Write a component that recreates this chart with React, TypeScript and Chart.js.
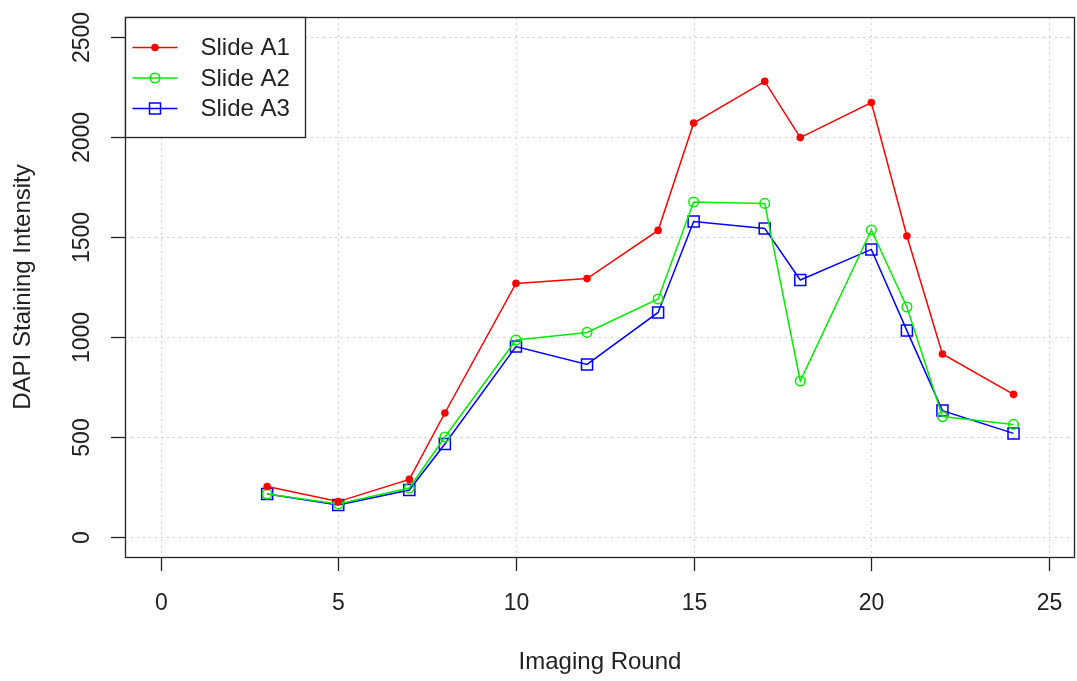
import React, { useEffect, useRef } from "react";
import { Chart, registerables } from "chart.js";

Chart.register(...registerables);

const rounds = [3, 5, 7, 8, 10, 12, 14, 15, 17, 18, 20, 21, 22, 24];
const slideA1 = [252, 177, 288, 620, 1268, 1292, 1533, 2070, 2278, 1997, 2172, 1505, 915, 713];
const slideA2 = [215, 165, 245, 500, 985, 1023, 1190, 1675, 1668, 780, 1535, 1150, 602, 563];
const slideA3 = [215, 160, 235, 465, 952, 863, 1123, 1577, 1543, 1285, 1438, 1032, 632, 518];
const seriesNames = ["Slide A1", "Slide A2", "Slide A3"];
const xTicks = [0, 5, 10, 15, 20, 25];
const yTicks = [0, 500, 1000, 1500, 2000, 2500];
const xTitle = "Imaging Round";
const yTitle = "DAPI Staining Intensity";

const FONT = '"Liberation Sans", Arial, sans-serif';
const colors = ["#ff0000", "#00ee00", "#0000ff"];

function drawSymbol(ctx: CanvasRenderingContext2D, i: number, x: number, y: number) {
  ctx.save();
  ctx.lineWidth = 1.5;
  ctx.strokeStyle = colors[i];
  ctx.fillStyle = colors[i];
  if (i === 0) {
    ctx.beginPath();
    ctx.arc(x, y, 3.8, 0, Math.PI * 2);
    ctx.fill();
  } else if (i === 1) {
    ctx.beginPath();
    ctx.arc(x, y, 4.8, 0, Math.PI * 2);
    ctx.stroke();
  } else {
    ctx.strokeRect(x - 5.5, y - 5.5, 11, 11);
  }
  ctx.restore();
}

const rPlot = {
  id: "rplot",
  beforeDatasetsDraw(chart: any) {
    const { ctx, chartArea: a, scales } = chart;
    const xs = scales.x;
    const ys = scales.y;
    ctx.save();
    ctx.strokeStyle = "#cfcfcf";
    ctx.lineWidth = 1;
    ctx.setLineDash([2, 4]);
    xTicks.forEach((v) => {
      const px = Math.round(xs.getPixelForValue(v)) + 0.5;
      ctx.beginPath();
      ctx.moveTo(px, a.top);
      ctx.lineTo(px, a.bottom);
      ctx.stroke();
    });
    yTicks.forEach((v) => {
      const py = Math.round(ys.getPixelForValue(v)) + 0.5;
      ctx.beginPath();
      ctx.moveTo(a.left, py);
      ctx.lineTo(a.right, py);
      ctx.stroke();
    });
    ctx.restore();
  },
  afterDatasetsDraw(chart: any) {
    const { ctx, chartArea: a, scales } = chart;
    const xs = scales.x;
    const ys = scales.y;
    ctx.save();
    ctx.setLineDash([]);
    ctx.strokeStyle = "#222";
    ctx.lineWidth = 1.3;
    ctx.strokeRect(Math.round(a.left) + 0.5, Math.round(a.top) + 0.5, Math.round(a.right - a.left) - 1, Math.round(a.bottom - a.top));

    // ticks
    ctx.fillStyle = "#222";
    ctx.font = `23px ${FONT}`;
    ctx.textAlign = "center";
    ctx.textBaseline = "middle";
    xTicks.forEach((v) => {
      const px = Math.round(xs.getPixelForValue(v)) + 0.5;
      ctx.beginPath();
      ctx.moveTo(px, a.bottom);
      ctx.lineTo(px, a.bottom + 14);
      ctx.stroke();
      ctx.fillText(String(v), px, 604);
    });
    yTicks.forEach((v) => {
      const py = Math.round(ys.getPixelForValue(v)) + 0.5;
      ctx.beginPath();
      ctx.moveTo(a.left, py);
      ctx.lineTo(a.left - 14, py);
      ctx.stroke();
      ctx.save();
      ctx.translate(83, py);
      ctx.rotate(-Math.PI / 2);
      ctx.fillText(String(v), 0, 0);
      ctx.restore();
    });
    // titles
    ctx.font = `24px ${FONT}`;
    ctx.fillText(xTitle, (a.left + a.right) / 2, 662);
    ctx.save();
    ctx.translate(23, (a.top + a.bottom) / 2);
    ctx.rotate(-Math.PI / 2);
    ctx.fillText(yTitle, 0, 0);
    ctx.restore();

    // legend
    const lx = Math.round(a.left) + 0.5;
    const ly = Math.round(a.top) + 0.5;
    const lw = 180;
    const lh = 120;
    ctx.fillStyle = "#fff";
    ctx.fillRect(lx, ly, lw, lh);
    ctx.strokeStyle = "#222";
    ctx.lineWidth = 1.3;
    ctx.strokeRect(lx, ly, lw, lh);
    ctx.font = `24px ${FONT}`;
    ctx.textAlign = "left";
    seriesNames.forEach((name, i) => {
      const y = ly + 30 + i * 30.5;
      ctx.strokeStyle = colors[i];
      ctx.lineWidth = 1.5;
      ctx.beginPath();
      ctx.moveTo(lx + 7, y);
      ctx.lineTo(lx + 52, y);
      ctx.stroke();
      drawSymbol(ctx, i, lx + 29.5, y);
      ctx.fillStyle = "#222";
      ctx.fillText(name, lx + 75, y + 1);
    });
    ctx.restore();
  },
};

export default function App() {
  const ref = useRef<HTMLCanvasElement | null>(null);
  useEffect(() => {
    if (!ref.current) return;
    const mk = (vals: number[]) => rounds.map((r, i) => ({ x: r, y: vals[i] }));
    const chart = new Chart(ref.current, {
      type: "line",
      data: {
        datasets: [
          {
            label: seriesNames[0],
            data: mk(slideA1),
            borderColor: colors[0],
            backgroundColor: colors[0],
            borderWidth: 1.5,
            pointStyle: "circle",
            pointRadius: 3.8,
            pointBorderWidth: 0,
            pointBackgroundColor: colors[0],
          },
          {
            label: seriesNames[1],
            data: mk(slideA2),
            borderColor: colors[1],
            backgroundColor: "rgba(0,0,0,0)",
            borderWidth: 1.5,
            pointStyle: "circle",
            pointRadius: 4.8,
            pointBorderWidth: 1.5,
            pointBackgroundColor: "rgba(0,0,0,0)",
          },
          {
            label: seriesNames[2],
            data: mk(slideA3),
            borderColor: colors[2],
            backgroundColor: "rgba(0,0,0,0)",
            borderWidth: 1.5,
            pointStyle: "rect",
            pointRadius: 7.8,
            pointBorderWidth: 1.5,
            pointBackgroundColor: "rgba(0,0,0,0)",
          },
        ],
      },
      options: {
        responsive: false,
        animation: false,
        layout: { autoPadding: false, padding: { left: 125, top: 17, right: 2, bottom: 124 } },
        plugins: { legend: { display: false }, tooltip: { enabled: false } },
        scales: {
          x: { type: "linear", display: false, min: -1, max: 25.73 },
          y: { type: "linear", display: false, min: -100, max: 2600 },
        },
      },
      plugins: [rPlot],
    });
    return () => chart.destroy();
  }, []);
  return (
    <div style={{ position: "absolute", left: 0, top: 0, width: 1077, height: 681, background: "#fff" }}>
      <canvas ref={ref} width={1077} height={681} style={{ width: 1077, height: 681 }} />
    </div>
  );
}
